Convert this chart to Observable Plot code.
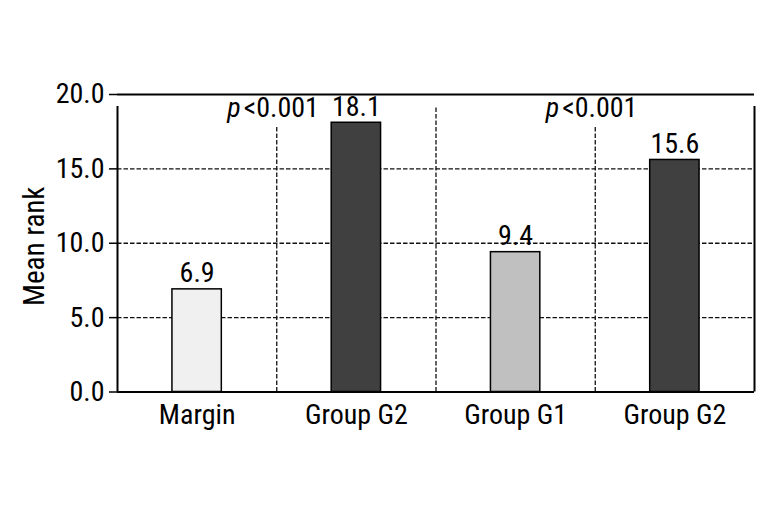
<!DOCTYPE html>
<html><head><meta charset="utf-8">
<script src="https://cdn.jsdelivr.net/npm/d3@7"></script>
<script src="https://cdn.jsdelivr.net/npm/@observablehq/plot@0.6"></script>
<style>body{margin:0;background:#fff}svg{display:block}</style>
</head><body><div id="chart"></div>
<script>
const categories = ["Margin", "Group G2", "Group G1", "Group G2"];
const meanRank = [6.9, 18.1, 9.4, 15.6];
const barFills = ["#f0f0f0", "#404040", "#c0c0c0", "#404040"];
const yTicks = [0, 5, 10, 15, 20];
const yLabel = "Mean rank";
// comparisons: pairs of category indices with p-value text
const compFrom = [0, 2];
const compTo = [1, 3];
const compP = ["<0.001", "<0.001"];

const bars = categories.map((c, i) => ({i, c, v: meanRank[i], fill: barFills[i]}));
const comps = compP.map((p, k) => ({at: compTo[k], from: compFrom[k], p}));
const boundaries = d3.range(1, categories.length);
const edges = [0, categories.length];
const yMax = d3.max(yTicks);
const dash = "4.5,2";
const font = "'Roboto Condensed', 'DejaVu Sans Condensed', sans-serif";

const pCommon = {x: "at", y: yMax, lineAnchor: "top", dy: 3, fontSize: 28};
const pItalic = {...pCommon, text: () => "p", fontStyle: "italic", textAnchor: "end", dx: -36};
const pValue = {...pCommon, text: "p", textAnchor: "start", dx: -33};
const halo = {fill: "white", stroke: "white", strokeWidth: 18, strokeLinejoin: "round"};

const chart = Plot.plot({
  width: 771, height: 514,
  marginLeft: 117, marginRight: 17, marginTop: 94, marginBottom: 122.5,
  style: {fontFamily: font, fontSize: "28px", fontWeight: 400, color: "black", background: "white"},
  x: {domain: [0, categories.length]},
  y: {domain: [0, yMax]},
  marks: [
    Plot.ruleY(yTicks.filter(t => t > 0 && t < yMax), {stroke: "#111", strokeWidth: 1.3, strokeDasharray: dash}),
    Plot.ruleX(boundaries, {y1: 0, y2: yMax, stroke: "#111", strokeWidth: 1.3, strokeDasharray: dash, insetBottom: -12}),
    Plot.text(comps, {...pItalic, ...halo}),
    Plot.text(comps, {...pValue, ...halo}),
    Plot.text(comps, {...pItalic, fill: "black"}),
    Plot.text(comps, {...pValue, fill: "black"}),
    Plot.rectY(bars, {x1: d => d.i + 0.345, x2: d => d.i + 0.655, y1: 0, y2: "v", fill: "fill", stroke: "black", strokeWidth: 1.5}),
    Plot.text(bars, {x: d => d.i + 0.5, y: "v", text: d => d.v.toFixed(1), lineAnchor: "bottom", dy: -7, fontSize: 28}),
    Plot.ruleX(edges, {y1: 0, y2: yMax, stroke: "black", strokeWidth: 2, insetBottom: -12}),
    Plot.ruleY([0, yMax], {stroke: "black", strokeWidth: 2}),
    Plot.axisY({ticks: yTicks, tickFormat: d => d.toFixed(1), tickSize: 8, tickPadding: 5, fontSize: 28, label: null, strokeWidth: 1.5}),
    Plot.axisX({ticks: categories.map((c, i) => i + 0.5), tickFormat: d => categories[Math.floor(d)], tickSize: 0, tickPadding: 12, fontSize: 28, label: null}),
    Plot.text([yLabel], {frameAnchor: "left", textAnchor: "middle", rotate: -90, dx: -83, dy: 3, fontSize: 29, text: d => d})
  ]
});
document.getElementById("chart").append(chart);
</script>
</body></html>
